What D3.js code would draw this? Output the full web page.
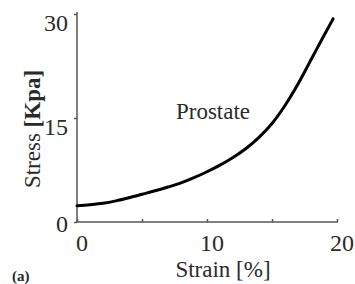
<!DOCTYPE html>
<html>
<head>
<meta charset="utf-8">
<script src="https://cdn.jsdelivr.net/npm/d3@7"></script>
<style>
  body { margin: 0; background: #fff; }
  text { font-family: "Liberation Serif", "Times New Roman", serif; fill: #2a2a2a; }
</style>
</head>
<body>
<div id="chart"></div>
<script>
// curve
var strain = [0, 1, 2, 3, 4, 5, 6, 7, 8, 9, 10, 11, 12, 13, 14, 15, 16, 17, 18, 19, 19.7];
var stress = [2.35, 2.5, 2.7, 3.05, 3.5, 4.0, 4.5, 5.05, 5.65, 6.4, 7.25, 8.2, 9.3, 10.6, 12.2, 14.2, 16.8, 19.9, 23.4, 26.9, 29.3];
var xTicks = [0, 10, 20];
var yTicks = [0, 15, 30];

var width = 355,
  height = 284;

var svg = d3
  .select("#chart")
  .append("svg")
  .attr("width", width)
  .attr("height", height);

var x = d3.scaleLinear().domain([0, 20]).range([77, 337]);
var y = d3.scaleLinear().domain([0, 30]).range([222, 14]);

// axes
var xAxis = d3.axisBottom(x).tickValues([0, 5, 10, 15, 20]).tickSize(-3).tickFormat("");
var yAxis = d3.axisLeft(y).tickValues([0, 15, 30]).tickSize(3).tickFormat("");

var gx = svg.append("g").attr("transform", "translate(0,222)").call(xAxis);
var gy = svg.append("g").attr("transform", "translate(77,0)").call(yAxis);
gx.select(".domain").attr("d", "M77,0H338").attr("stroke", "#555").attr("stroke-width", 1.5);
gy.select(".domain").attr("d", "M0,12V222").attr("stroke", "#555").attr("stroke-width", 1.5);
svg.selectAll(".tick line").attr("stroke", "#555").attr("stroke-width", 1.5);

// tick labels
svg
  .selectAll(".xlab")
  .data(xTicks)
  .enter()
  .append("text")
  .attr("x", (d) => x(d) + 5)
  .attr("y", 251)
  .attr("text-anchor", "middle")
  .style("font-size", "24px")
  .text((d) => d);

svg
  .selectAll(".ylab")
  .data(yTicks)
  .enter()
  .append("text")
  .attr("x", 68)
  .attr("y", (d) => (d === 0 ? y(d) + 10 : y(d) + 17))
  .attr("text-anchor", "end")
  .style("font-size", "24px")
  .text((d) => d);

// titles
svg
  .append("text")
  .attr("x", 223)
  .attr("y", 277)
  .attr("text-anchor", "middle")
  .style("font-size", "23px")
  .text("Strain [%]");

var yt = svg
  .append("text")
  .attr("transform", "translate(40,129) rotate(-90)")
  .attr("text-anchor", "middle")
  .style("font-size", "23px");
yt.append("tspan").text("Stress ");
yt.append("tspan").style("font-weight", "bold").text("[Kpa]");

svg
  .append("text")
  .attr("x", 213)
  .attr("y", 119)
  .attr("text-anchor", "middle")
  .style("font-size", "23px")
  .text("Prostate");

svg
  .append("text")
  .attr("x", 12)
  .attr("y", 281)
  .style("font-family", "'Liberation Serif', serif")
  .style("font-size", "15px")
  .style("font-weight", "bold")
  .text("(a)");

// curve
var pts = strain.map((s, i) => [s, stress[i]]);
var line = d3
  .line()
  .x((d) => x(d[0]))
  .y((d) => y(d[1]))
  .curve(d3.curveMonotoneX);

svg
  .append("path")
  .datum(pts)
  .attr("d", line)
  .attr("fill", "none")
  .attr("stroke", "#000")
  .attr("stroke-width", 3)
  .attr("stroke-linecap", "round");
</script>
</body>
</html>
